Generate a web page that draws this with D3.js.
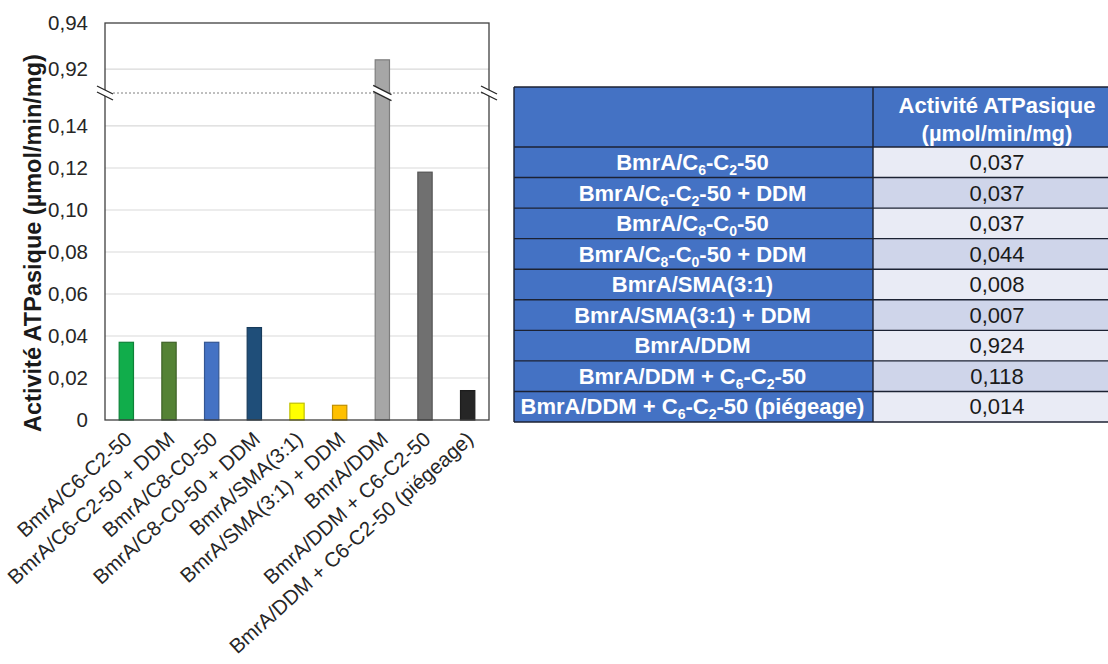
<!DOCTYPE html>
<html>
<head>
<meta charset="utf-8">
<script src="https://cdn.jsdelivr.net/npm/d3@7"></script>
<style>
  html, body { margin: 0; padding: 0; background: #fff; }
  svg { display: block; font-family: "Liberation Sans", Arial, sans-serif; }
</style>
</head>
<body>
<svg id="chart" width="1108" height="664"></svg>
<script>
// ---------- DATA ----------
const categories = [
  "BmrA/C6-C2-50",
  "BmrA/C6-C2-50 + DDM",
  "BmrA/C8-C0-50",
  "BmrA/C8-C0-50 + DDM",
  "BmrA/SMA(3:1)",
  "BmrA/SMA(3:1) + DDM",
  "BmrA/DDM",
  "BmrA/DDM + C6-C2-50",
  "BmrA/DDM + C6-C2-50 (piégeage)"
];
const activity = [0.037, 0.037, 0.037, 0.044, 0.008, 0.007, 0.924, 0.118, 0.014];
const barColors = ["#11AD4B", "#548235", "#4472C4", "#1F4E79", "#FFFF00", "#FFC000", "#A6A6A6", "#707070", "#262626"];
const lowTicks = [0, 0.02, 0.04, 0.06, 0.08, 0.10, 0.12, 0.14];
const highTicks = [0.92, 0.94];
const lowDomain = [0, 0.1557];
const highDomain = [0.9096, 0.94];
// table labels: "_x" marks a subscript character
const tableLabels = [
  "BmrA/C_6-C_2-50",
  "BmrA/C_6-C_2-50 + DDM",
  "BmrA/C_8-C_0-50",
  "BmrA/C_8-C_0-50 + DDM",
  "BmrA/SMA(3:1)",
  "BmrA/SMA(3:1) + DDM",
  "BmrA/DDM",
  "BmrA/DDM + C_6-C_2-50",
  "BmrA/DDM + C_6-C_2-50 (piégeage)"
];
const tableHeader = ["Activité ATPasique", "(µmol/min/mg)"];
const yTitle = "Activité ATPasique (µmol/min/mg)";

// ---------- SETUP ----------
const svg = d3.select("#chart");
const locale = d3.formatLocale({decimal: ",", thousands: " ", grouping: [3], currency: ["", " €"]});
const fmt2 = locale.format(".2f");
const fmt3 = locale.format(".3f");

const plot = {left: 105, right: 489, top: 23, bottom: 420, brk: 93};

const x = d3.scaleBand().domain(categories).range([plot.left, plot.right]).paddingInner(0.665).paddingOuter(0.3325);
const yLow = d3.scaleLinear().domain(lowDomain).range([plot.bottom, plot.brk]);
const yHigh = d3.scaleLinear().domain(highDomain).range([plot.brk, plot.top]);
const yVal = v => v > lowDomain[1] ? yHigh(v) : yLow(v);

// gridlines
const grid = svg.append("g");
grid.selectAll("line.low").data(lowTicks.filter(t => t > 0)).join("line")
  .attr("x1", plot.left).attr("x2", plot.right)
  .attr("y1", d => yLow(d)).attr("y2", d => yLow(d))
  .attr("stroke", "#d9d9d9").attr("stroke-width", 1.2);
grid.selectAll("line.high").data(highTicks.filter(t => t < highDomain[1])).join("line")
  .attr("x1", plot.left).attr("x2", plot.right)
  .attr("y1", d => yHigh(d)).attr("y2", d => yHigh(d))
  .attr("stroke", "#d9d9d9").attr("stroke-width", 1.2);

// break dotted line
svg.append("line")
  .attr("x1", plot.left).attr("x2", plot.right)
  .attr("y1", plot.brk).attr("y2", plot.brk)
  .attr("stroke", "#7f7f7f").attr("stroke-width", 1).attr("stroke-dasharray", "2,2");

// bars
svg.append("g").selectAll("rect").data(activity).join("rect")
  .attr("x", (d, i) => x(categories[i]))
  .attr("width", x.bandwidth())
  .attr("y", d => yVal(d))
  .attr("height", d => plot.bottom - yVal(d))
  .attr("fill", (d, i) => barColors[i])
  .attr("stroke", (d, i) => d3.color(barColors[i]).darker(0.8))
  .attr("stroke-width", 1.2);

// break marks
function breakMark(cx, cy, w, fillGap) {
  const dx = w / 2, dy = dx * 0.5, gap = 3;
  const g = svg.append("g");
  if (fillGap) {
    g.append("path")
      .attr("d", `M${cx - dx},${cy - dy - gap} L${cx + dx},${cy + dy - gap} L${cx + dx},${cy + dy + gap} L${cx - dx},${cy - dy + gap} Z`)
      .attr("fill", "#fff");
  }
  [-gap, gap].forEach(o => {
    g.append("line")
      .attr("x1", cx - dx).attr("y1", cy - dy + o)
      .attr("x2", cx + dx).attr("y2", cy + dy + o)
      .attr("stroke", "#262626").attr("stroke-width", 1.3);
  });
}
const bigIdx = activity.findIndex(v => v > lowDomain[1]);
breakMark(x(categories[bigIdx]) + x.bandwidth() / 2, plot.brk, x.bandwidth() + 4, true);

// frame
svg.append("rect")
  .attr("x", plot.left).attr("y", plot.top)
  .attr("width", plot.right - plot.left).attr("height", plot.bottom - plot.top)
  .attr("fill", "none").attr("stroke", "#404040").attr("stroke-width", 1.3);

// axis break marks on frame
breakMark(plot.left, plot.brk, 16, true);
breakMark(plot.right, plot.brk, 16, true);

// y axis labels
const yAxisLow = d3.axisLeft(yLow).tickValues(lowTicks).tickSize(0).tickPadding(17)
  .tickFormat(d => d === 0 ? "0" : fmt2(d));
const yAxisHigh = d3.axisLeft(yHigh).tickValues(highTicks).tickSize(0).tickPadding(17)
  .tickFormat(d => fmt2(d));
[yAxisLow, yAxisHigh].forEach(ax => {
  const g = svg.append("g").attr("transform", `translate(${plot.left},0)`).call(ax);
  g.select(".domain").remove();
  g.selectAll("text").attr("font-size", 20.5).attr("fill", "#262626")
    .attr("font-family", "Liberation Sans, Arial, sans-serif");
});

// y title
svg.append("text")
  .attr("transform", `translate(33,${(48 + 438) / 2}) rotate(-90)`)
  .attr("text-anchor", "middle").attr("dy", "0.35em")
  .attr("font-size", 23.5).attr("font-weight", "bold").attr("fill", "#1a1a1a")
  .text(yTitle);

// x labels
svg.append("g").selectAll("text").data(categories).join("text")
  .attr("transform", d => `translate(${x(d) + x.bandwidth() / 2 + 7},${plot.bottom + 21}) rotate(-42)`)
  .attr("text-anchor", "end")
  .attr("font-size", 20.5).attr("fill", "#262626")
  .text(d => d);

// ---------- TABLE ----------
const tbl = {left: 514, split: 873, right: 1110, top: 87, headBottom: 147, bottom: 422};
const rowH = (tbl.bottom - tbl.headBottom) / tableLabels.length;
const rowY = d3.scaleBand().domain(d3.range(tableLabels.length)).range([tbl.headBottom, tbl.bottom]);
const t = svg.append("g");

// header background
t.append("rect").attr("x", tbl.left).attr("y", tbl.top)
  .attr("width", tbl.right - tbl.left).attr("height", tbl.headBottom - tbl.top)
  .attr("fill", "#4472C4");
// first column background
t.append("rect").attr("x", tbl.left).attr("y", tbl.headBottom)
  .attr("width", tbl.split - tbl.left).attr("height", tbl.bottom - tbl.headBottom)
  .attr("fill", "#4472C4");
// value cells
t.selectAll("rect.cell").data(activity).join("rect").attr("class", "cell")
  .attr("x", tbl.split).attr("y", (d, i) => rowY(i))
  .attr("width", tbl.right - tbl.split).attr("height", rowY.bandwidth())
  .attr("fill", (d, i) => i % 2 === 0 ? "#E9EBF5" : "#CFD5EA");

// lines
t.selectAll("line.h").data(d3.range(tableLabels.length + 1)).join("line")
  .attr("x1", tbl.left).attr("x2", tbl.right)
  .attr("y1", i => tbl.headBottom + i * rowH).attr("y2", i => tbl.headBottom + i * rowH)
  .attr("stroke", "#1c2233").attr("stroke-width", 1.4);
t.append("line").attr("x1", tbl.left).attr("x2", tbl.right)
  .attr("y1", tbl.top).attr("y2", tbl.top).attr("stroke", "#1c2233").attr("stroke-width", 1.4);
t.append("line").attr("x1", tbl.left).attr("x2", tbl.left)
  .attr("y1", tbl.top).attr("y2", tbl.bottom).attr("stroke", "#1c2233").attr("stroke-width", 1.4);
t.append("line").attr("x1", tbl.split).attr("x2", tbl.split)
  .attr("y1", tbl.top).attr("y2", tbl.bottom).attr("stroke", "#1c2233").attr("stroke-width", 1.4);

// header text
t.selectAll("text.head").data(tableHeader).join("text")
  .attr("x", 997)
  .attr("y", (d, i) => 105 + i * 28).attr("dy", "0.35em")
  .attr("text-anchor", "middle").attr("font-size", 22).attr("font-weight", "bold")
  .attr("fill", "#fff").text(d => d);

// row labels with subscripts
t.selectAll("text.lab").data(tableLabels).join("text")
  .attr("x", (tbl.left + tbl.split) / 2 - 1)
  .attr("y", (d, i) => rowY(i) + rowH / 2).attr("dy", "0.35em")
  .attr("text-anchor", "middle").attr("font-size", 22).attr("font-weight", "bold")
  .attr("fill", "#fff")
  .each(function(d) {
    const el = d3.select(this);
    const parts = d.split(/(_.)/).filter(s => s.length);
    let shifted = false;
    parts.forEach(p => {
      if (p.startsWith("_")) {
        el.append("tspan").attr("font-size", 14).attr("dy", 5).text(p.slice(1));
        shifted = true;
      } else {
        const ts = el.append("tspan").text(p);
        if (shifted) { ts.attr("dy", -5); shifted = false; }
      }
    });
  });

// values
t.selectAll("text.val").data(activity).join("text")
  .attr("x", 997)
  .attr("y", (d, i) => rowY(i) + rowH / 2).attr("dy", "0.35em")
  .attr("text-anchor", "middle").attr("font-size", 22).attr("fill", "#1a1a1a")
  .text(d => fmt3(d));
</script>
</body>
</html>
